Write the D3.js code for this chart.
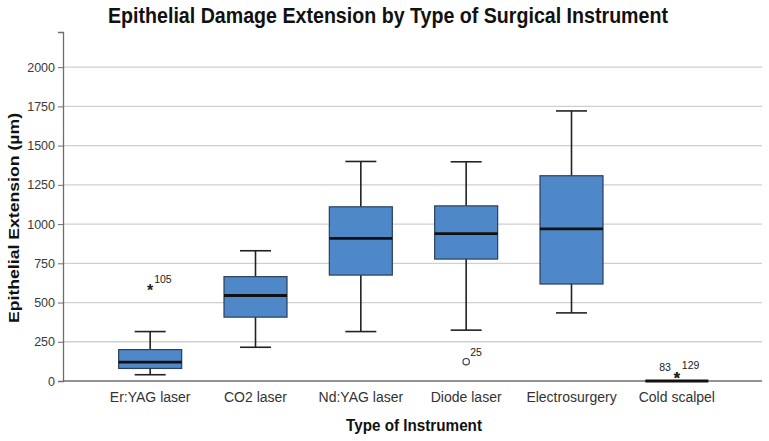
<!DOCTYPE html>
<html><head><meta charset="utf-8">
<script src="https://cdn.jsdelivr.net/npm/d3@7"></script>
<style>body{margin:0;background:#fff;} svg{display:block;}</style>
</head><body>
<script>
const categories = ["Er:YAG laser","CO2 laser","Nd:YAG laser","Diode laser","Electrosurgery","Cold scalpel"];
const whiskerLow  = [40, 215, 315, 324, 434, 0];
const q1          = [80, 407, 675, 777, 618, 0];
const median      = [120, 545, 909, 939, 969, 0];
const q3          = [200, 665, 1110, 1116, 1308, 0];
const whiskerHigh = [315, 830, 1399, 1397, 1721, 0];
// outliers: [categoryIndex, value, label, type]
const outlierCat   = [0, 3, 5, 5];
const outlierVal   = [586, 123, 20, 20];
const outlierLabel = ["105", "25", "83", "129"];
const outlierType  = ["extreme", "mild", "extreme", "extreme"];
const yTicks = [0,250,500,750,1000,1250,1500,1750,2000];

const W = 769, H = 441;
const m = {l:63, r:7, t:32, b:60};
const FONT = "Liberation Sans, Arial, sans-serif";
const svg = d3.select("body").append("svg").attr("width",W).attr("height",H);

const y = d3.scaleLinear().domain([0,2224]).range([H-m.b, m.t]);
const x = d3.scaleBand().domain(categories).range([97.5, 729.5]).paddingInner(0).paddingOuter(0);
const cx = c => x(c) + x.bandwidth()/2;

// gridlines
svg.append("g").selectAll("line").data(yTicks.filter(d=>d>0)).join("line")
  .attr("x1", m.l).attr("x2", W-m.r)
  .attr("y1", d=>y(d)).attr("y2", d=>y(d))
  .attr("stroke","#cfcfcf").attr("stroke-width",1.3);

// y axis
const yAxis = d3.axisLeft(y).tickValues(yTicks).tickSize(5).tickPadding(3).tickFormat(d3.format("d"));
const gy = svg.append("g").attr("transform",`translate(${m.l},0)`).call(yAxis);
gy.select(".domain").attr("stroke","#6e6e6e").attr("stroke-width",1.3);
gy.selectAll(".tick line").attr("stroke","#6e6e6e");
gy.selectAll("text").attr("font-family",FONT).attr("font-size",12.5).attr("fill","#3a3a3a");

// x axis
const xAxis = d3.axisBottom(x).tickSize(0).tickPadding(11);
const gx = svg.append("g").attr("transform",`translate(0,${H-m.b})`).call(xAxis);
gx.select(".domain").attr("d", `M${m.l},0H${W-m.r}`).attr("stroke","#6e6e6e").attr("stroke-width",1.3);
gx.selectAll("text").attr("font-family",FONT).attr("font-size",14).attr("fill","#333");

const boxW = 63, capW = 31;
const g = svg.append("g");
categories.forEach((c,i)=>{
  const xc = cx(c);
  if (q3[i] - q1[i] > 0) {
    g.append("line").attr("x1",xc).attr("x2",xc).attr("y1",y(q3[i])).attr("y2",y(whiskerHigh[i])).attr("stroke","#222").attr("stroke-width",1.6);
    g.append("line").attr("x1",xc).attr("x2",xc).attr("y1",y(q1[i])).attr("y2",y(whiskerLow[i])).attr("stroke","#222").attr("stroke-width",1.6);
    g.append("line").attr("x1",xc-capW/2).attr("x2",xc+capW/2).attr("y1",y(whiskerHigh[i])).attr("y2",y(whiskerHigh[i])).attr("stroke","#222").attr("stroke-width",1.6);
    g.append("line").attr("x1",xc-capW/2).attr("x2",xc+capW/2).attr("y1",y(whiskerLow[i])).attr("y2",y(whiskerLow[i])).attr("stroke","#222").attr("stroke-width",1.6);
    g.append("rect").attr("x",xc-boxW/2).attr("width",boxW)
      .attr("y",y(q3[i])).attr("height",y(q1[i])-y(q3[i]))
      .attr("fill","#4f88c9").attr("stroke","#2a3f5a").attr("stroke-width",1.2);
  }
  g.append("line").attr("x1",xc-boxW/2).attr("x2",xc+boxW/2).attr("y1",y(median[i])).attr("y2",y(median[i]))
    .attr("stroke","#111").attr("stroke-width",2.8);
});

// outliers
const og = svg.append("g").attr("font-family",FONT);
outlierCat.forEach((ci,k)=>{
  const xc = cx(categories[ci]), yy = y(outlierVal[k]);
  if (outlierType[k]==="mild") {
    og.append("circle").attr("cx",xc).attr("cy",yy).attr("r",3.2).attr("fill","none").attr("stroke","#333").attr("stroke-width",1.1);
  } else {
    og.append("text").attr("x",xc).attr("y",yy+6.5).attr("text-anchor","middle").attr("font-size",16).attr("font-weight","bold").attr("fill","#222").text("*");
  }
});
outlierCat.forEach((ci,k)=>{
  const xc = cx(categories[ci]), yy = y(outlierVal[k]);
  let dx = 4, anchor = "start", dy = -6;
  if (outlierLabel[k]==="83") { dx = -6; anchor = "end"; dy = -7; }
  if (outlierLabel[k]==="129") { dx = 5; dy = -9; }
  og.append("text").attr("x",xc+dx).attr("y",yy+dy).attr("text-anchor",anchor)
    .attr("font-size",10.5).attr("fill","#222").text(outlierLabel[k]);
});

// titles
svg.append("text").attr("x",388).attr("y",23).attr("text-anchor","middle")
  .attr("font-family",FONT).attr("font-weight","bold").attr("font-size",22)
  .attr("textLength",560).attr("lengthAdjust","spacingAndGlyphs")
  .attr("fill","#111").text("Epithelial Damage Extension by Type of Surgical Instrument");
svg.append("text").attr("x",414).attr("y",431).attr("text-anchor","middle")
  .attr("font-family",FONT).attr("font-weight","bold").attr("font-size",16)
  .attr("textLength",136).attr("lengthAdjust","spacingAndGlyphs")
  .attr("fill","#111").text("Type of Instrument");
svg.append("text").attr("transform","translate(19,218) rotate(-90)").attr("text-anchor","middle")
  .attr("font-family",FONT).attr("font-weight","bold").attr("font-size",15.5)
  .attr("textLength",210).attr("lengthAdjust","spacingAndGlyphs")
  .attr("fill","#111").text("Epithelial Extension (µm)");
</script>
</body></html>
